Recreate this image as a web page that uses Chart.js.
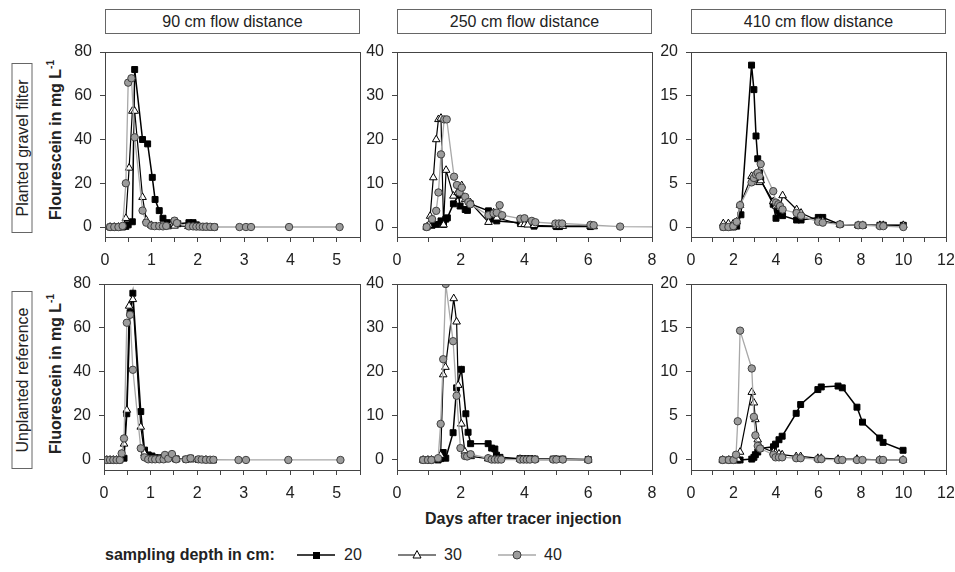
<!DOCTYPE html>
<html lang="en">
<head>
<meta charset="UTF-8">
<title>Fluorescein tracer breakthrough curves</title>
<script src="https://cdn.jsdelivr.net/npm/chart.js"></script>
<style>
  body { margin: 0; background: #fff; font-family: "Liberation Sans", Arial, sans-serif; color: #222; }
  #fig { position: relative; width: 955px; height: 572px; overflow: hidden; }
  canvas { position: absolute; }
  .title { position: absolute; top: 9px; height: 25px; box-sizing: border-box; border: 1px solid #666;
           text-align: center; font-size: 16px; line-height: 23px; }
  .rot { position: absolute; transform: translate(-50%, -50%) rotate(-90deg); white-space: nowrap; }
  .rowbox { box-sizing: border-box; border: 1px solid #666; height: 21px; font-size: 16px;
            line-height: 19px; text-align: center; }
  .ytitle { font-size: 16px; font-weight: bold; }
  .ytitle sup { font-size: 10px; }
  .txt { position: absolute; transform: translateY(-50%); white-space: nowrap; font-size: 16px; }
  svg { position: absolute; }
</style>
</head>
<body>
<div id="fig">
  <div class="title" style="left:105px;width:255px">90 cm flow distance</div>
  <div class="title" style="left:397px;width:255px">250 cm flow distance</div>
  <div class="title" style="left:691px;width:255px">410 cm flow distance</div>

  <div class="rot rowbox" style="left:22px;top:148px;width:170px">Planted gravel filter</div>
  <div class="rot rowbox" style="left:22px;top:380px;width:178px">Unplanted reference</div>
  <div class="rot ytitle" style="left:55px;top:140px">Flourescein in mg L<sup>-1</sup></div>
  <div class="rot ytitle" style="left:55px;top:374px">Fluorescein in mg L<sup>-1</sup></div>

  <div class="txt" style="left:425px;top:519px;font-weight:bold">Days after tracer injection</div>

  <div class="txt" style="left:105px;top:555px;font-weight:bold">sampling depth in cm:</div>
  <svg style="left:297px;top:548px" width="38" height="14">
    <line x1="0" y1="7" x2="38" y2="7" stroke="#000" stroke-width="1.5"/>
    <rect x="16" y="4" width="7" height="7" fill="#000"/>
  </svg>
  <div class="txt" style="left:344px;top:555px">20</div>
  <svg style="left:398px;top:548px" width="38" height="14">
    <line x1="0" y1="7" x2="38" y2="7" stroke="#000" stroke-width="1.2"/>
    <polygon points="19,2.5 23,10 15,10" fill="#fff" stroke="#000" stroke-width="1"/>
  </svg>
  <div class="txt" style="left:444px;top:555px">30</div>
  <svg style="left:498px;top:548px" width="38" height="14">
    <line x1="0" y1="7" x2="38" y2="7" stroke="#a8a8a8" stroke-width="1.3"/>
    <circle cx="19" cy="7" r="4" fill="#9c9c9c" stroke="#404040" stroke-width="1"/>
  </svg>
  <div class="txt" style="left:544px;top:555px">40</div>
</div>

<script>
  // tick values
  const xTicks90 = [0, 0.5, 1, 1.5, 2, 2.5, 3, 3.5, 4, 4.5, 5, 5.5];
  const xLabels90 = [0, 1, 2, 3, 4, 5];
  const xTicks250 = [0, 1, 2, 3, 4, 5, 6, 7, 8];
  const xLabels250 = [0, 2, 4, 6, 8];
  const xTicks410 = [0, 1, 2, 3, 4, 5, 6, 7, 8, 9, 10, 11, 12];
  const xLabels410 = [0, 2, 4, 6, 8, 10, 12];
  const yTicks90 = [0, 20, 40, 60, 80];
  const yTicks250 = [0, 10, 20, 30, 40];
  const yTicks410 = [0, 5, 10, 15, 20];

  // planted gravel filter, 90 cm
  const days90p20 = [0.11, 0.2, 0.29, 0.38, 0.45, 0.5, 0.59, 0.64, 0.81, 0.92, 1.02, 1.08, 1.17, 1.25, 1.35, 1.5, 1.57, 1.81, 1.9, 1.97, 2.11, 2.27, 2.36];
  const conc90p20 = [0, 0, 0, 0, 0.3, 1, 2.4, 72, 40, 38, 22.7, 12.6, 7.5, 4, 2, 2.7, 1.5, 2, 2, 1, 0.3, 0, 0];
  const days90p30 = [0.11, 0.2, 0.29, 0.38, 0.45, 0.52, 0.59, 0.64, 0.81, 0.89, 1.0, 1.1, 1.2, 1.35, 1.5, 1.8, 2.0, 2.2];
  const conc90p30 = [0, 0, 0, 0.3, 4, 27, 53, 53, 13.6, 3.2, 0.8, 0.3, 0.2, 0.2, 0.5, 0.3, 0.1, 0];
  const days90p40 = [0.11, 0.2, 0.29, 0.38, 0.45, 0.5, 0.57, 0.64, 0.81, 0.89, 1.0, 1.07, 1.17, 1.25, 1.32, 1.5, 1.55, 1.81, 1.9, 1.97, 2.04, 2.11, 2.18, 2.27, 2.36, 2.9, 3.04, 3.15, 3.97, 5.06];
  const conc90p40 = [0, 0, 0, 0.5, 20, 66, 68, 41, 7.5, 2, 0.6, 0.4, 0.4, 0.3, 0.5, 2.9, 1.8, 0.3, 0.3, 0.2, 0.2, 0.1, 0.1, 0.1, 0, 0, 0, 0, 0, 0];

  // planted gravel filter, 250 cm
  const days250p20 = [0.93, 1.1, 1.25, 1.38, 1.46, 1.53, 1.58, 1.77, 1.93, 1.98, 2.14, 2.21, 2.3, 2.87, 3.03, 3.13, 3.87, 4.0, 4.3, 5.0, 5.1, 6.07];
  const conc250p20 = [0, 0.4, 0.6, 1.4, 0.6, 1.8, 2.1, 5.3, 7.3, 4.8, 4, 3.8, 5.3, 3.7, 1.8, 1.4, 1, 0.8, 0.2, 0.1, 0.1, 0.1];
  const days250p30 = [0.93, 1.0, 1.04, 1.14, 1.23, 1.3, 1.38, 1.46, 1.54, 1.77, 1.9, 2.03, 2.14, 2.3, 2.87, 3.03, 3.13, 3.9, 4.0, 4.1, 4.3, 5.0, 5.1, 5.2, 6.07, 6.17];
  const conc250p30 = [0, 0.5, 2.5, 11.3, 20, 24.6, 24.9, 0.5, 13, 7.1, 7.9, 9.5, 6.3, 5.6, 1.1, 3.3, 2.1, 0.6, 0.6, 0.5, 0.4, 0.2, 0.2, 0.2, 0.2, 0.1];
  const days250p40 = [0.93, 1.1, 1.23, 1.3, 1.38, 1.48, 1.56, 1.79, 1.88, 1.96, 2.03, 2.14, 2.24, 2.3, 2.87, 3.03, 3.13, 3.22, 3.3, 3.87, 4.0, 4.23, 4.34, 4.97, 5.08, 5.18, 6.07, 6.17, 7.0, 8.6];
  const conc250p40 = [0, 1.8, 3.7, 7.9, 16.6, 24.6, 24.6, 11.5, 9.6, 7.9, 9, 6.9, 5.7, 5.2, 2.7, 3.1, 3.3, 5, 2.7, 1.9, 2, 1.4, 1.1, 0.8, 0.8, 0.8, 0.5, 0.4, 0.1, 0];

  // planted gravel filter, 410 cm
  const days410p20 = [1.52, 1.76, 1.99, 2.15, 2.35, 2.85, 2.96, 3.06, 3.14, 3.22, 3.28, 3.87, 4.0, 4.11, 4.19, 4.31, 4.97, 5.18, 5.99, 6.2, 7.01, 7.87, 8.08, 8.89, 9.05, 9.99];
  const conc410p20 = [0, 0, 0, 0.1, 1.4, 18.5, 15.7, 10.4, 7.8, 6.2, 5.4, 2.6, 1, 1.9, 1.6, 1.3, 0.8, 0.8, 1.1, 1.1, 0.3, 0.2, 0.2, 0.2, 0.2, 0.2];
  const days410p30 = [1.52, 1.76, 1.99, 2.15, 2.31, 2.85, 2.96, 3.06, 3.14, 3.22, 3.28, 3.87, 4.0, 4.11, 4.19, 4.31, 4.97, 5.18, 5.99, 6.2, 7.01, 7.87, 8.08, 8.89, 9.05, 9.99];
  const conc410p30 = [0.4, 0.4, 0.4, 0.6, 2.5, 5.8, 5.4, 5.6, 5.8, 5.1, 5.3, 2.9, 2.4, 2.4, 2.2, 3.6, 2.0, 1.6, 0.7, 0.7, 0.3, 0.2, 0.2, 0.2, 0.2, 0.2];
  const days410p40 = [1.52, 1.76, 1.99, 2.15, 2.31, 2.85, 2.96, 3.06, 3.14, 3.22, 3.28, 3.87, 4.0, 4.11, 4.19, 4.31, 4.97, 5.18, 5.99, 6.2, 7.01, 7.87, 8.08, 8.89, 9.05, 9.99];
  const conc410p40 = [0, 0, 0.1, 0.6, 2.5, 5.1, 5.6, 6.0, 6.2, 5.8, 7.2, 4.1, 2.8, 2.6, 2.4, 2.0, 1.6, 1.3, 0.6, 0.5, 0.3, 0.2, 0.2, 0.1, 0.1, 0];

  // unplanted reference, 90 cm
  const days90u20 = [0.06, 0.13, 0.2, 0.27, 0.34, 0.43, 0.49, 0.56, 0.62, 0.79, 0.87, 0.95, 1.03, 1.1, 1.19, 1.28, 1.38, 1.55, 1.76, 1.86, 2.03, 2.19, 2.35];
  const conc90u20 = [0, 0, 0, 0, 0, 0.8, 21, 67, 75.8, 22, 4.5, 2.3, 1.8, 1, 1, 1, 1.5, 0.5, 0.3, 0.8, 0.2, 0.1, 0];
  const days90u30 = [0.06, 0.13, 0.2, 0.27, 0.34, 0.43, 0.49, 0.54, 0.62, 0.79, 0.87, 0.95, 1.1, 1.28, 1.55, 1.86, 2.19];
  const conc90u30 = [0, 0, 0, 0, 0.5, 7.3, 22.7, 70, 73, 15, 3, 0.5, 0.3, 0.2, 0.2, 0.1, 0];
  const days90u40 = [0.06, 0.13, 0.2, 0.27, 0.34, 0.38, 0.43, 0.49, 0.56, 0.62, 0.79, 0.87, 0.95, 1.03, 1.1, 1.19, 1.28, 1.31, 1.38, 1.46, 1.55, 1.76, 1.86, 2.03, 2.1, 2.19, 2.28, 2.35, 2.89, 3.05, 3.96, 5.08];
  const conc90u40 = [0, 0, 0, 0, 0, 3, 9.8, 62.4, 66, 41, 5.3, 1.2, 0.3, 0.3, 0.3, 0.3, 0.3, 2.3, 0.6, 2.7, 0.3, 0.3, 0.8, 0.3, 0.2, 0.1, 0.1, 0.1, 0, 0, 0, 0];

  // unplanted reference, 250 cm
  const days250u20 = [0.82, 0.97, 1.08, 1.29, 1.37, 1.45, 1.53, 1.76, 1.87, 2.02, 2.16, 2.23, 2.31, 2.86, 2.97, 3.07, 3.12, 3.23, 3.86, 3.97, 4.07, 4.17, 4.33, 4.9, 5.0, 5.2, 6.0];
  const conc250u20 = [0, 0, 0, 0, 0.3, 1.7, 0.4, 6.2, 16.4, 20.6, 10.5, 6.3, 3.7, 3.7, 2.7, 2.5, 1.1, 0.6, 0.3, 0.3, 0.3, 0.3, 0.2, 0.2, 0.2, 0.2, 0.1];
  const days250u30 = [0.82, 0.97, 1.08, 1.29, 1.37, 1.45, 1.52, 1.78, 1.87, 1.92, 2.02, 2.13, 2.2, 2.31, 2.86, 3.07, 3.86, 4.33, 5.0, 6.0];
  const conc250u30 = [0, 0, 0, 0.2, 1.1, 19.4, 21.1, 36.7, 31.4, 17, 8.2, 1.9, 0.8, 0.8, 0.3, 0.2, 0.2, 0.1, 0.1, 0];
  const days250u40 = [0.82, 0.97, 1.08, 1.29, 1.37, 1.45, 1.53, 1.76, 1.87, 1.99, 2.13, 2.2, 2.31, 2.86, 2.97, 3.07, 3.17, 3.27, 3.86, 3.97, 4.07, 4.17, 4.33, 4.9, 5.0, 5.2, 6.0];
  const conc250u40 = [0, 0, 0, 0.4, 8.2, 22.9, 40, 27, 14.6, 2.7, 0.9, 0.8, 1.3, 0.4, 0.1, 0.1, 0.1, 0.1, 0.1, 0.1, 0.1, 0.1, 0.1, 0.1, 0.1, 0.1, 0];

  // unplanted reference, 410 cm
  const days410u20 = [1.49, 1.78, 2.0, 2.2, 2.31, 2.86, 2.96, 3.03, 3.14, 3.25, 3.88, 3.98, 4.14, 4.29, 4.95, 5.16, 5.97, 6.13, 6.92, 7.12, 7.81, 8.07, 8.88, 9.04, 9.98];
  const conc410u20 = [0, 0, 0, 0, 0, 0.1, 0.3, 0.6, 0.9, 1.3, 1.5, 1.8, 2.3, 2.7, 5.3, 6.3, 8.0, 8.3, 8.4, 8.2, 6.0, 4.3, 2.5, 2.0, 1.1];
  const days410u30 = [1.49, 1.78, 2.0, 2.2, 2.31, 2.86, 2.96, 3.03, 3.14, 3.25, 3.88, 3.98, 4.14, 4.29, 4.95, 5.16, 5.97, 6.13, 6.92, 7.81, 8.88, 9.98];
  const conc410u30 = [0, 0, 0, 0.1, 0.9, 7.7, 6.5, 4.6, 2.3, 1.5, 0.9, 0.8, 0.7, 0.6, 0.4, 0.4, 0.2, 0.2, 0.1, 0.1, 0, 0];
  const days410u40 = [1.49, 1.78, 2.0, 2.12, 2.2, 2.31, 2.86, 2.96, 3.03, 3.14, 3.25, 3.88, 3.98, 4.14, 4.29, 4.95, 5.16, 5.97, 6.13, 6.92, 7.12, 7.81, 8.07, 8.88, 9.04, 9.98];
  const conc410u40 = [0, 0, 0, 0.6, 4.4, 14.7, 10.4, 4.9, 2.8, 1.6, 1.3, 0.6, 0.3, 0.3, 0.3, 0.2, 0.2, 0.1, 0.1, 0, 0, 0, 0, 0, 0, 0];

  const depthStyle = {
    20: { pointStyle: "rect", pointRadius: 4.2, pointBackgroundColor: "#000", pointBorderColor: "#000", borderColor: "#000", borderWidth: 1.5, order: 3 },
    30: { pointStyle: "triangle", pointRadius: 4.4, pointBackgroundColor: "#fff", pointBorderColor: "#000", borderColor: "#000", borderWidth: 1.2, order: 2 },
    40: { pointStyle: "circle", pointRadius: 3.7, pointBackgroundColor: "#9c9c9c", pointBorderColor: "#404040", borderColor: "#a8a8a8", borderWidth: 1.3, order: 1 },
  };

  const toPoints = (xs, ys) => xs.map((x, i) => ({ x: x, y: ys[i] }));

  const frame = {
    id: "frame",
    afterDatasetsDraw(chart) {
      const a = chart.chartArea, ctx = chart.ctx;
      ctx.save();
      ctx.strokeStyle = "#444";
      ctx.lineWidth = 1;
      ctx.strokeRect(Math.round(a.left) + 0.5, Math.round(a.top) + 0.5,
                     Math.round(a.right - a.left), Math.round(a.bottom - a.top));
      ctx.restore();
    },
  };

  const panels = [
    { left: 105, top: 52, w: 255, h: 185, xMax: 5.5, xTicks: xTicks90, xLabels: xLabels90, yMax: 80, yTicks: yTicks90,
      series: [[20, days90p20, conc90p20], [30, days90p30, conc90p30], [40, days90p40, conc90p40]] },
    { left: 397, top: 52, w: 255, h: 185, xMax: 8, xTicks: xTicks250, xLabels: xLabels250, yMax: 40, yTicks: yTicks250,
      series: [[20, days250p20, conc250p20], [30, days250p30, conc250p30], [40, days250p40, conc250p40]] },
    { left: 691, top: 52, w: 255, h: 185, xMax: 12, xTicks: xTicks410, xLabels: xLabels410, yMax: 20, yTicks: yTicks410,
      series: [[20, days410p20, conc410p20], [30, days410p30, conc410p30], [40, days410p40, conc410p40]] },
    { left: 104, top: 284, w: 256, h: 186, xMax: 5.5, xTicks: xTicks90, xLabels: xLabels90, yMax: 80, yTicks: yTicks90,
      series: [[20, days90u20, conc90u20], [30, days90u30, conc90u30], [40, days90u40, conc90u40]] },
    { left: 397, top: 284, w: 255, h: 186, xMax: 8, xTicks: xTicks250, xLabels: xLabels250, yMax: 40, yTicks: yTicks250,
      series: [[20, days250u20, conc250u20], [30, days250u30, conc250u30], [40, days250u40, conc250u40]] },
    { left: 691, top: 284, w: 255, h: 186, xMax: 12, xTicks: xTicks410, xLabels: xLabels410, yMax: 20, yTicks: yTicks410,
      series: [[20, days410u20, conc410u20], [30, days410u30, conc410u30], [40, days410u40, conc410u40]] },
  ];

  const AXIS_W = 50, AXIS_H = 36, PAD_T = 12, PAD_R = 8;
  const tickFont = { family: "'Liberation Sans', Arial, sans-serif", size: 16 };

  panels.forEach((p) => {
    const canvas = document.createElement("canvas");
    canvas.width = p.w + AXIS_W + PAD_R;
    canvas.height = p.h + PAD_T + AXIS_H;
    canvas.style.left = p.left - AXIS_W + "px";
    canvas.style.top = p.top - PAD_T + "px";
    document.getElementById("fig").appendChild(canvas);

    new Chart(canvas.getContext("2d"), {
      type: "scatter",
      data: {
        datasets: p.series.map(([depth, xs, ys]) => ({
          label: depth + " cm",
          data: toPoints(xs, ys),
          showLine: true,
          tension: 0,
          pointBorderWidth: 1,
          ...depthStyle[depth],
        })),
      },
      options: {
        responsive: false,
        animation: false,
        devicePixelRatio: 1,
        events: [],
        layout: { padding: { top: PAD_T, right: PAD_R, left: 0, bottom: 0 } },
        plugins: { legend: { display: false }, tooltip: { enabled: false } },
        scales: {
          x: {
            type: "linear",
            min: 0,
            max: p.xMax,
            afterBuildTicks: (s) => { s.ticks = p.xTicks.map((v) => ({ value: v })); },
            afterFit: (s) => { s.height = AXIS_H; s.paddingLeft = 0; s.paddingRight = 0; },
            ticks: {
              autoSkip: false,
              maxRotation: 0,
              padding: 9,
              color: "#222",
              font: tickFont,
              callback: (v) => (p.xLabels.includes(v) ? String(v) : ""),
            },
            grid: { drawOnChartArea: false, drawTicks: true, tickLength: 5, tickColor: "#444" },
            border: { color: "#444", width: 1 },
          },
          y: {
            min: -p.yMax * 0.057,
            max: p.yMax,
            afterBuildTicks: (s) => { s.ticks = p.yTicks.map((v) => ({ value: v })); },
            afterFit: (s) => { s.width = AXIS_W; s.paddingTop = 0; s.paddingBottom = 0; },
            ticks: { padding: 8, color: "#222", font: tickFont },
            grid: { drawOnChartArea: false, drawTicks: true, tickLength: 5, tickColor: "#444" },
            border: { color: "#444", width: 1 },
          },
        },
      },
      plugins: [frame],
    });
  });
</script>
</body>
</html>
